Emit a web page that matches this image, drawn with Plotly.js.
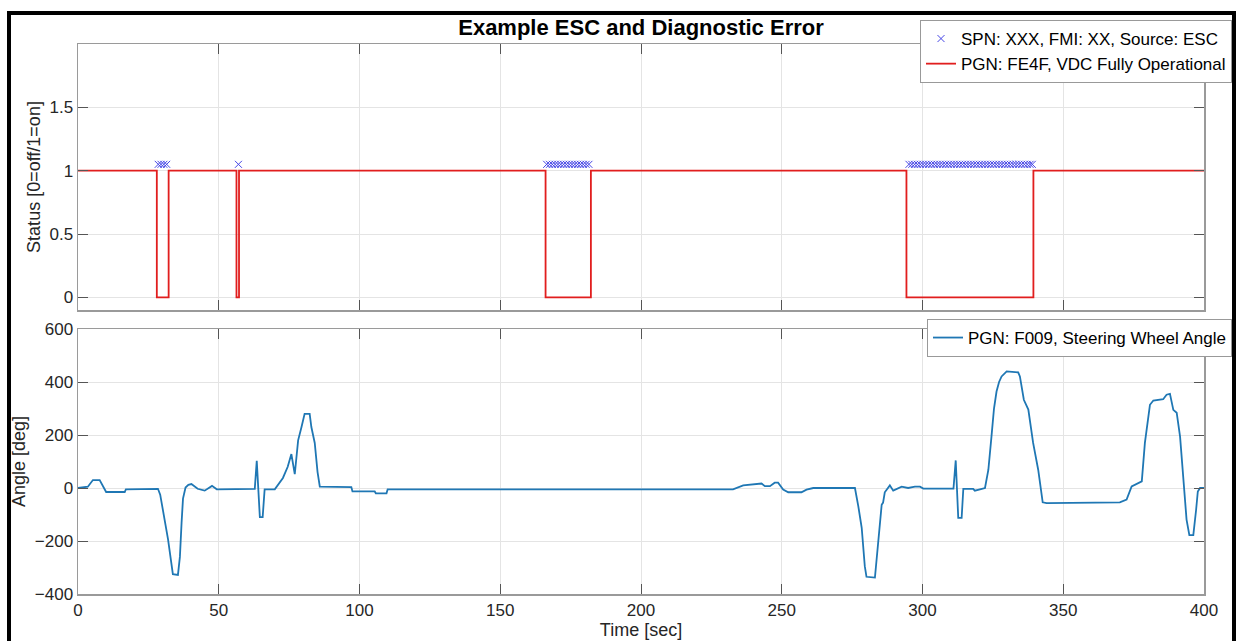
<!DOCTYPE html>
<html>
<head>
<meta charset="utf-8">
<script src="https://cdn.plot.ly/plotly-3.0.1.min.js"></script>
<style>html,body{margin:0;padding:0;background:#fff;}#chart{width:1236px;height:641px;}</style>
</head>
<body>
<div id="chart"></div>
<script>
// ---- Data ----
// Top panel: VDC Fully Operational status (step line, transitions)
const statusTime  = [0, 28.0, 32.2, 56.3, 57.2, 166.1, 182.2, 294.3, 339.4, 400];
const statusValue = [1, 0,    1,    0,    1,    0,     1,     0,     1,     1];

// Top panel: diagnostic error markers (SPN/FMI from ESC)
const errorTime = [
  28.5, 29.5, 30.5, 31.5,
  57.0,
  166.5, 167.5, 168.5, 169.5, 170.5, 171.5, 172.5, 173.5, 174.5, 175.5, 176.5, 177.5, 178.5, 179.5, 180.5, 181.5,
  295.2, 296.2, 297.2, 298.2, 299.2, 300.2, 301.2, 302.2, 303.2, 304.2, 305.2, 306.2, 307.2, 308.2, 309.2,
  310.2, 311.2, 312.2, 313.2, 314.2, 315.2, 316.2, 317.2, 318.2, 319.2, 320.2, 321.2, 322.2, 323.2, 324.2,
  325.2, 326.2, 327.2, 328.2, 329.2, 330.2, 331.2, 332.2, 333.2, 334.2, 335.2, 336.2, 337.2, 338.2, 339.0
];
const errorLevel = 1.05;

// Bottom panel: steering wheel angle
const angleTime = [0, 3.5, 5.3, 7.7, 10, 16.6, 17, 23, 28.4, 29.2, 30.2, 31.1, 32, 32.9, 33.7, 35.5, 36.2, 36.8, 37.3, 38.2, 39.2, 40.3, 42.5, 45, 47.6, 49.3,
  62.8, 63.5, 64.6, 65.6, 66.3, 69.9, 72.8, 74.5, 75.8, 77, 78.2, 79.4, 80.5, 82.3, 82.9, 84.1, 85.1, 85.9, 97.1, 97.5, 105.4,
  105.8, 109.6, 110, 232.7, 236.3, 242.2, 242.8, 244, 245.8, 247.5, 248.7, 250.5, 252.3, 257, 258.8, 261.2, 276, 277.2,
  278.4, 279.5, 280.1, 283.1, 284.3, 285.5, 286, 286.6, 288.4, 289.6, 292.6, 294.9, 297.3, 299.1, 300.3, 311, 311.8,
  312.7, 313.9, 314.5, 318, 318.6, 322.2, 323.4, 324.5, 325.4, 326.3, 327.2, 328.1, 329.9, 334, 334.6, 336, 337.6, 339.3, 341.1,
  342.7, 344.1, 370.1, 372.5, 374.3, 377.9, 379, 380.8, 382, 385.5, 386.7, 387.9, 389.1, 390.3, 391.5, 392.6, 393.8,
  394.8, 396.2, 397.2, 397.8, 398.6, 400];
const angleValue = [0, 5, 30, 30, -15, -15, -5, -3, -3, -25, -80, -140, -195, -270, -325, -328, -260, -130, -40, 2, 12, 15, -3, -10, 8, -5,
  -3, 103, -110, -110, -5, -5, 38, 80, 128, 52, 180, 230, 280, 280, 230, 170, 60, 5, 3, -13, -13,
  -20, -20, -5, -5, 10, 15, 17, 7, 7, 20, 20, -6, -16, -16, -6, 0, 0, -69,
  -150, -295, -335, -338, -207, -63, -55, -16, 10, -10, 5, 0, 5, 5, -2, -2, 104,
  -113, -113, -3, -3, -10, 0, 69, 194, 300, 364, 400, 421, 440, 436, 421, 333, 296, 170, 69,
  -54, -57, -54, -44, 6, 25, 170, 314, 330, 335, 352, 355, 295, 284, 194, 44, -119,
  -178, -178, -82, -13, 0, 0];

// Labels
const titleText = "Example ESC and Diagnostic Error";
const errorName = "SPN: XXX, FMI: XX, Source: ESC";
const statusName = "PGN: FE4F, VDC Fully Operational";
const angleName = "PGN: F009, Steering Wheel Angle";
const statusYTitle = "Status [0=off/1=on]";
const angleYTitle = "Angle [deg]";
const xTitle = "Time [sec]";

// ---- Plot ----
const FONT = "Liberation Sans, Arial, Helvetica, sans-serif";
const traces = [
  {
    x: errorTime, y: errorTime.map(() => errorLevel),
    type: "scatter", mode: "markers", name: errorName,
    marker: {symbol: "x-thin", size: 7, color: "rgb(70,70,230)", line: {color: "rgb(70,70,230)", width: 1}},
    xaxis: "x", yaxis: "y", legend: "legend"
  },
  {
    x: statusTime, y: statusValue,
    type: "scatter", mode: "lines", name: statusName,
    line: {color: "rgb(225,30,30)", width: 1.8, shape: "hv"},
    xaxis: "x", yaxis: "y", legend: "legend"
  },
  {
    x: angleTime, y: angleValue,
    type: "scatter", mode: "lines", name: angleName,
    line: {color: "#1f77b4", width: 1.8},
    xaxis: "x2", yaxis: "y2", legend: "legend2"
  }
];

const axisCommon = {
  showline: true, linecolor: "#9a9a9a", linewidth: 1.5, mirror: "ticks",
  ticks: "inside", ticklen: 10, tickcolor: "#555", tickwidth: 1,
  showgrid: true, gridcolor: "#e4e4e4", gridwidth: 1, zeroline: false,
  tickfont: {family: FONT, size: 17, color: "#262626"}
};

const W = 1236, H = 641;
const L = 78, R = 1204, T = 44, B = 594;
const px = v => (v - L) / (R - L);
const py = v => (B - v) / (B - T);

const layout = {
  width: W, height: H,
  margin: {l: L, r: W - R, t: T, b: H - B, pad: 0, autoexpand: false},
  paper_bgcolor: "#fff", plot_bgcolor: "#fff",
  font: {family: FONT, color: "#262626"},
  showlegend: true,
  title: {text: "<b>" + titleText + "</b>", font: {family: FONT, size: 22, color: "#000"},
          x: 0.5, xanchor: "center", xref: "paper", y: 1 - 27/H, yanchor: "middle", yref: "container"},
  xaxis: Object.assign({}, axisCommon, {domain: [0, 1], range: [0, 400], dtick: 50, tick0: 0, showticklabels: false, anchor: "y"}),
  yaxis: Object.assign({}, axisCommon, {domain: [py(310), 1], range: [-0.1, 2], tickvals: [0, 0.5, 1, 1.5], ticktext: ["0", "0.5", "1", "1.5"],
          title: {text: statusYTitle, font: {family: FONT, size: 18, color: "#262626"}, standoff: 4}, anchor: "x"}),
  xaxis2: Object.assign({}, axisCommon, {domain: [0, 1], range: [0, 400], dtick: 50, tick0: 0, anchor: "y2",
          title: {text: xTitle, font: {family: FONT, size: 18, color: "#262626"}, standoff: 2}}),
  yaxis2: Object.assign({}, axisCommon, {domain: [0, py(329)], range: [-400, 600], dtick: 200, tick0: 0, anchor: "x2",
          title: {text: angleYTitle, font: {family: FONT, size: 18, color: "#262626"}, standoff: 4}}),
  legend: {xref: "container", yref: "container", x: 1232 / W, xanchor: "right", y: 1 - 20 / H, yanchor: "top", bgcolor: "#fff",
           bordercolor: "#999", borderwidth: 1, font: {family: FONT, size: 17, color: "#000"},
           itemwidth: 30, tracegroupgap: 0},
  legend2: {xref: "container", yref: "container", x: 1232 / W, xanchor: "right", y: 1 - 319 / H, yanchor: "top", bgcolor: "#fff",
           bordercolor: "#999", borderwidth: 1, font: {family: FONT, size: 17, color: "#000"},
           itemwidth: 30, tracegroupgap: 0},
  shapes: [
    {type: "rect", xref: "paper", yref: "paper", x0: px(9), x1: px(1234), y0: py(680), y1: py(13),
     line: {color: "#000", width: 4}, fillcolor: "rgba(0,0,0,0)", layer: "above"}
  ]
};

Plotly.newPlot("chart", traces, layout, {displayModeBar: false, staticPlot: true});
</script>
</body>
</html>
